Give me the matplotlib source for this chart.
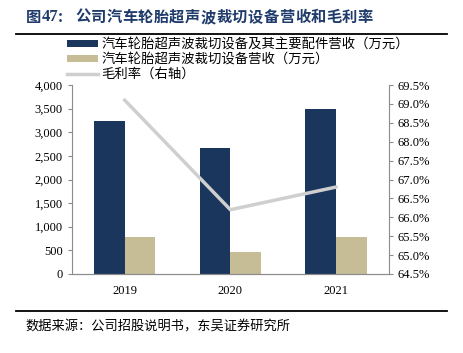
import numpy as np
import matplotlib
matplotlib.use("Agg")
import matplotlib.pyplot as plt
from matplotlib.ticker import FuncFormatter, MultipleLocator

# ------------------------------------------------------------
# Data
# ------------------------------------------------------------
years = ["2019", "2020", "2021"]
total_rev = [3240, 2665, 3490]      # 设备及其主要配件营收（万元）
equip_rev = [785, 465, 785]         # 设备营收（万元）
margin = [69.1, 66.2, 66.8]         # 毛利率 %

labels = [
    "汽车轮胎超声波裁切设备及其主要配件营收（万元）",
    "汽车轮胎超声波裁切设备营收（万元）",
    "毛利率（右轴）",
]
title_body = "公司汽车轮胎超声波裁切设备营收和毛利率"
source = "数据来源：公司招股说明书，东吴证券研究所"

CJK = ["Noto Sans CJK SC", "DejaVu Sans"]
NUM = ["Liberation Serif", "DejaVu Serif"]
navy = "#1b365d"
tan = "#c6bc95"
grey = "#cfcfcf"
axis_c = "#8c8c8c"
title_c = "#1f3b6b"

W, H = 464, 353

# ------------------------------------------------------------
# Figure
# ------------------------------------------------------------
fig = plt.figure(figsize=(W / 100, H / 100), dpi=100)
ax = fig.add_axes([0.155, 0.224, 0.683, 0.535])
ax2 = ax.twinx()

x = np.arange(len(years))
w = 0.29
b1 = ax.bar(x - w / 2, total_rev, w, color=navy, label=labels[0])
b2 = ax.bar(x + w / 2, equip_rev, w, color=tan, label=labels[1])
l1, = ax2.plot(x, margin, color=grey, lw=2.5, label=labels[2])

ax.set_xlim(-0.5, 2.5)
ax.set_ylim(0, 4000)
ax.yaxis.set_major_locator(MultipleLocator(500))
ax.yaxis.set_major_formatter(FuncFormatter(lambda v, p: f"{v:,.0f}"))
ax2.set_ylim(64.5, 69.5)
ax2.yaxis.set_major_locator(MultipleLocator(0.5))
ax2.yaxis.set_major_formatter(FuncFormatter(lambda v, p: f"{v:.1f}%"))

ax.set_xticks(x)
ax.set_xticklabels(years)

for a in (ax, ax2):
    a.spines["top"].set_visible(False)
    for s in ["left", "right", "bottom"]:
        a.spines[s].set_color(axis_c)
        a.spines[s].set_linewidth(0.8)
    a.tick_params(colors=axis_c, labelcolor="black", labelsize=9, length=3, width=0.8)
    for t in a.get_yticklabels() + a.get_xticklabels():
        t.set_fontfamily(NUM)
ax.tick_params(axis="x", length=0, pad=8)
ax.spines["right"].set_visible(False)
ax2.spines["left"].set_visible(False)

leg = fig.legend(handles=[b1, b2, l1], loc="upper left",
                 bbox_to_anchor=(67 / W, 1 - 37 / H), frameon=False,
                 prop={"family": CJK, "size": 9.6},
                 handlelength=2.3, handleheight=0.45, labelspacing=0.08,
                 handletextpad=0.3, borderaxespad=0, borderpad=0)

# ------------------------------------------------------------
# Title / source  (title drawn char by char to mimic the wide spacing)
# ------------------------------------------------------------
ty = 1 - 17 / H
fig.text(26 / W, ty, "图", fontfamily=CJK, fontsize=11,
         fontweight="bold", color=title_c, va="center")
fig.text(42 / W, ty, "47", fontfamily=NUM, fontsize=12,
         fontweight="bold", color=title_c, va="center")
fig.text(58 / W, ty, ":", fontfamily=CJK, fontsize=11,
         fontweight="bold", color=title_c, va="center")
pitch = 15.7
for i, ch in enumerate(title_body):
    fig.text((75 + i * pitch) / W, ty, ch, fontfamily=CJK,
             fontsize=11, fontweight="bold", color=title_c, va="center")

fig.add_artist(plt.Line2D([16 / W, 447 / W], [1 - 34 / H, 1 - 34 / H],
                          color="black", lw=1.3))
fig.add_artist(plt.Line2D([16 / W, 447 / W], [1 - 311 / H, 1 - 311 / H],
                          color="black", lw=1.3))
fig.text(25 / W, 1 - 327 / H, source,
         fontfamily=CJK, fontsize=9.5, color="black", va="center")

plt.savefig("out.png", dpi=100)
